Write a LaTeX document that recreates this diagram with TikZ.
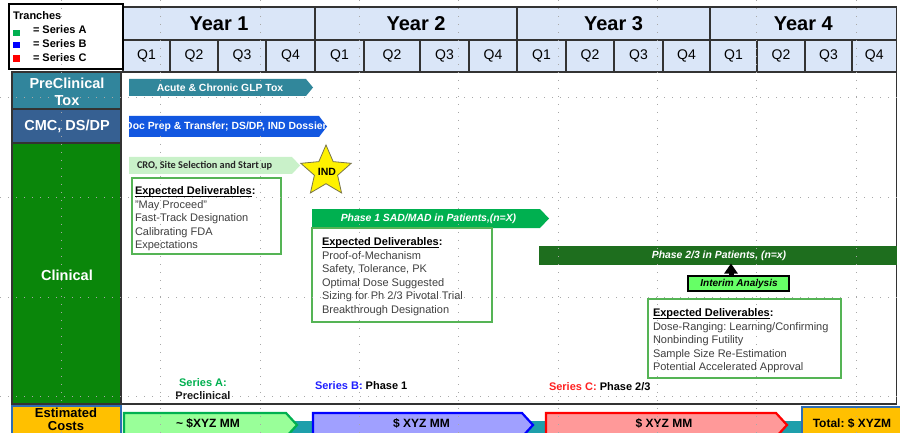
\documentclass[tikz,border=0pt]{standalone}
\usepackage{fontspec}
\setmainfont{Liberation Sans}
\newfontfamily\calibri{Carlito}
\usetikzlibrary{arrows.meta,shapes.geometric}
\frenchspacing
\definecolor{hdr}{HTML}{DAE6F8}
\definecolor{tealA}{HTML}{31859C}
\definecolor{cmc}{HTML}{366092}
\definecolor{clin}{HTML}{0A860A}
\definecolor{accbar}{HTML}{31879B}
\definecolor{docbar}{HTML}{1257E0}
\definecolor{crobar}{HTML}{C9F1C9}
\definecolor{ph1}{HTML}{00B050}
\definecolor{ph23}{HTML}{1E6E1E}
\definecolor{interimc}{HTML}{66FF66}
\definecolor{delv}{HTML}{55B455}
\definecolor{band}{HTML}{1E9FAB}
\definecolor{costA}{HTML}{99FF99}
\definecolor{costB}{HTML}{A0A0FF}
\definecolor{costC}{HTML}{FF9999}
\definecolor{orng}{HTML}{FFC000}
\definecolor{costbd}{HTML}{2E6DB4}
\definecolor{txtgray}{HTML}{404040}
\definecolor{serA}{HTML}{00B050}
\definecolor{serB}{HTML}{2020FF}
\definecolor{serC}{HTML}{FF2020}
\definecolor{gridc}{HTML}{A8A8A8}
\newcommand\fsz[2]{\fontsize{#1}{#2}\selectfont}
\newcommand\ulhead[1]{\underline{\smash{#1}}}
\tikzset{
  every node/.style={inner sep=0pt, outer sep=0pt},
  cellline/.style={draw=black!80, line width=1.1pt},
  yeartext/.style={font=\fsz{20}{24}\bfseries},
  qtext/.style={font=\fsz{14}{16}},
  lefttext/.style={font=\fsz{14.5}{17}\bfseries, text=white, align=center},
  bartext/.style={font=\fsz{10.4}{12}\bfseries, text=white},
  barital/.style={font=\fsz{10.4}{12}\bfseries\itshape, text=white},
  delbox/.style={draw=delv, line width=1.3pt, fill=white},
  deltext/.style={font=\fsz{11}{13.5}, text=txtgray, align=left, anchor=north west},
  sertext/.style={font=\fsz{11}{13}\bfseries},
  costtext/.style={font=\fsz{12}{14}\bfseries},
  gridline/.style={draw=gridc, line width=0.8pt, dash pattern=on 0.8pt off 7.2pt},
  legtext/.style={font=\fsz{11}{13}\bfseries, anchor=west}
}
\begin{document}
\begin{tikzpicture}[x=1pt,y=-1pt]
\useasboundingbox (0,0) rectangle (900,433);
\fill[white] (0,0) rectangle (900,433);

% ---------- header ----------
\foreach \a/\b/\t [count=\i] in {123/315/Year 1, 315/517/Year 2, 517/710/Year 3, 710/896.5/Year 4}{
  \filldraw[fill=hdr, cellline] (\a,7) rectangle (\b,40);
  \node[yeartext] (yr\i) at ({(\a+\b)/2},23.5) {\t};
}
\foreach \a/\b/\t [count=\i] in {123/170/Q1, 170/218/Q2, 218/266/Q3, 266/315/Q4,
  315/364/Q1, 364/420/Q2, 420/469/Q3, 469/517/Q4,
  517/566/Q1, 566/614/Q2, 614/663/Q3, 663/710/Q4,
  710/757/Q1, 757/805/Q2, 805/852/Q3, 852/896.5/Q4}{
  \filldraw[fill=hdr, cellline] (\a,40) rectangle (\b,72);
  \node[qtext] (q\i) at ({(\a+\b)/2},56) {\t};
}

% ---------- legend ----------
\node[draw=black, line width=1.6pt, fill=white, minimum width=114pt, minimum height=65pt, anchor=north west] (legend) at (9,4) {};
\node[legtext] (tranches) at (13,15.5) {Tranches};
\node[fill=serA, minimum size=6.5pt, anchor=center] (sqA) at (16.5,33) {};
\node[fill=blue, minimum size=6.5pt, anchor=center] (sqB) at (16.5,45) {};
\node[fill=red, minimum size=6.5pt, anchor=center] (sqC) at (16.5,58.5) {};
\node[legtext] (legA) at (33,30) {= Series A};
\node[legtext] (legB) at (33,43.3) {= Series B};
\node[legtext] (legC) at (33,57.3) {= Series C};

% ---------- left column ----------
\node[fill=tealA, cellline, minimum width=109pt, minimum height=37pt, anchor=north west] (preclin) at (12,72) {};
\node[lefttext] (preclintext) at (67,91.5) {PreClinical\\Tox};
\node[fill=cmc, cellline, minimum width=109pt, minimum height=34pt, anchor=north west] (cmcbox) at (12,109) {};
\node[lefttext] (cmctext) at (67,126) {CMC, DS/DP};
\node[fill=clin, cellline, minimum width=109pt, minimum height=261pt, anchor=north west] (clinbox) at (12,143) {};
\node[lefttext] (clintext) at (67,275) {Clinical};
\node[fill=orng, draw=costbd, line width=2.2pt, minimum width=109pt, minimum height=34pt, anchor=north west] (estbox) at (12,406) {};
\node[font=\fsz{13}{12.5}\bfseries, align=center] (esttext) at (66,419.5) {Estimated\\Costs};

% ---------- main frame ----------
\draw[black!80, line width=1.2pt] (121,72) -- (896.5,72) -- (896.5,404) -- (121,404);

% ---------- bars ----------
\fill[accbar] (129,79) -- (306,79) -- (313,87.5) -- (306,96) -- (129,96) -- cycle;
\node[bartext] (acute) at (220,87.5) {Acute \& Chronic GLP Tox};

\fill[docbar] (129,116) -- (319,116) -- (327,126.5) -- (319,137) -- (129,137) -- cycle;
\begin{scope}
\clip (129,116) -- (319,116) -- (327,126.5) -- (319,137) -- (129,137) -- cycle;
\node[bartext] (doc) at (226,126.5) {Doc Prep \& Transfer; DS/DP, IND Dossier};
\end{scope}

\fill[crobar] (129,157) -- (292,157) -- (300,165.5) -- (292,174) -- (129,174) -- cycle;
\node[font=\fsz{10.3}{12}\calibri\bfseries, text=black!85, anchor=west] (cro) at (137,165.5) {CRO, Site Selection and Start up};

\coordinate (ind) at (326,171.5);
\filldraw[shift={(ind)}, fill=yellow, draw=black!60!yellow, line width=0.8pt]
  (-90:26.5) -- (-54:12.2) -- (-18:26.5) -- (18:12.2) -- (54:26.5) -- (90:12.2)
  -- (126:26.5) -- (162:12.2) -- (198:26.5) -- (234:12.2) -- cycle;
\node[font=\fsz{10.5}{12}\bfseries] (indtext) at (327,172) {IND};

% deliverables 1
\node[delbox, minimum width=149pt, minimum height=76pt, anchor=north west] (del1) at (132,178) {};
\node[deltext] (del1text) at (135,189) {\textcolor{black}{\bfseries\ulhead{Expected Deliverables}:}\\
"May Proceed"\\Fast-Track Designation\\Calibrating FDA\\Expectations};

% phase 1
\fill[ph1] (312,209) -- (540,209) -- (549,218.5) -- (540,228) -- (312,228) -- cycle;
\node[barital] (ph1text) at (428.5,218.5) {Phase 1 SAD/MAD in Patients,(n=X)};
\node[delbox, minimum width=180pt, minimum height=94pt, anchor=north west] (del2) at (312,228) {};
\node[deltext] (del2text) at (322,240) {\textcolor{black}{\bfseries\ulhead{Expected Deliverables}:}\\
Proof-of-Mechanism\\Safety, Tolerance, PK\\Optimal Dose Suggested\\Sizing for Ph 2/3 Pivotal Trial\\Breakthrough Designation};

% phase 2/3
\node[fill=ph23, minimum width=358pt, minimum height=19pt, anchor=north west] (ph23) at (539,246) {};
\node[barital] (ph23text) at (719,255.5) {Phase 2/3 in Patients, (n=x)};
\node[fill=interimc, draw=black, line width=1.3pt, minimum width=101pt, minimum height=15pt, anchor=north west] (interim) at (688,276) {};
\node[font=\fsz{10}{12}\bfseries\itshape] (interimtext) at (739,283.5) {Interim Analysis};
\coordinate (iatip) at (731,263.5);
\draw[line width=5pt, -{Triangle[length=10pt,width=13pt]}] (interim.north -| iatip) -- (iatip);

\node[delbox, minimum width=193pt, minimum height=79pt, anchor=north west] (del3) at (648,299) {};
\node[deltext] (del3text) at (653,311) {\textcolor{black}{\bfseries\ulhead{Expected Deliverables}:}\\
Dose-Ranging: Learning/Confirming\\Nonbinding Futility\\Sample Size Re-Estimation\\Potential Accelerated Approval};

% series labels
\node[sertext, text=serA] (serAtext) at (203,383) {Series A:};
\node[sertext, text=black!90] (serAsub) at (203,396) {Preclinical};
\node[sertext, anchor=west] (serBtext) at (315,386) {\textcolor{serB}{Series B:} Phase 1};
\node[sertext, anchor=west] (serCtext) at (549,387) {\textcolor{serC}{Series C:} Phase 2/3};

% ---------- costs row ----------
\fill[band] (123,421) rectangle (897,440);
\filldraw[fill=costA, draw=serA, line width=2.2pt] (124,413) -- (286,413) -- (297,425) -- (286,437) -- (124,437) -- cycle;
\node[costtext] (costAtext) at (208,423.5) {\textasciitilde{} \$XYZ MM};
\filldraw[fill=costB, draw=blue, line width=2.2pt] (313,413) -- (522,413) -- (533,425) -- (522,437) -- (313,437) -- cycle;
\node[costtext] (costBtext) at (421.5,423.5) {\$ XYZ MM};
\filldraw[fill=costC, draw=red, line width=2.2pt] (546,413) -- (776,413) -- (787,425) -- (776,437) -- (546,437) -- cycle;
\node[costtext] (costCtext) at (664,423.5) {\$ XYZ MM};
\node[fill=orng, draw=costbd, line width=2.2pt, minimum width=100pt, minimum height=33pt, anchor=north west] (total) at (802,407) {};
\node[costtext] (totaltext) at (852,423.5) {Total: \$ XYZM};

% ---------- page grid ----------
\foreach \x in {61.5,160.8,260.1,359.4,458.7,558,657.3,756.6,855.9}{
  \draw[gridline] (\x,0) -- (\x,433);
}
\foreach \y in {97.7,197.3,296.9,396.5}{
  \draw[gridline] (0,\y) -- (900,\y);
}
\end{tikzpicture}
\end{document}
